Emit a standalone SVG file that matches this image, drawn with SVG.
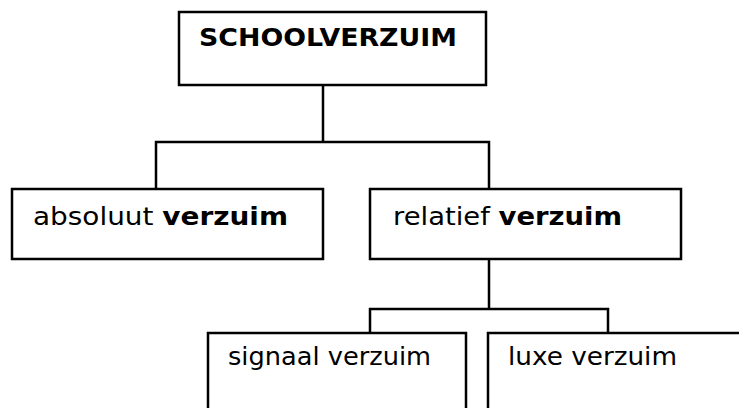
<svg xmlns="http://www.w3.org/2000/svg" width="739" height="408" viewBox="0 0 739 408">
<style>
.box{fill:#ffffff;stroke:#000000;stroke-width:2.5}
.lbl{font-family:"DejaVu Sans","Verdana",sans-serif;font-size:25px;fill:#000000}
.b{font-weight:bold}
.conn{fill:none;stroke:#000000;stroke-width:2.5;stroke-linecap:square}
</style>
<rect x="0" y="0" width="739" height="408" fill="#ffffff"/>
<g id="connectors">
<path class="conn" d="M323 85 V142 M156 142 H489 M156 142 V189 M489 142 V189"/>
<path class="conn" d="M489 259 V309 M370 309 H608 M370 309 V333 M608 309 V333"/>
</g>
<g id="schoolverzuim">
<rect class="box" x="179" y="12" width="307" height="73"/>
<text class="lbl b" x="199" y="46" font-size="22" textLength="258" lengthAdjust="spacingAndGlyphs">SCHOOLVERZUIM</text>
</g>
<g id="absoluut">
<rect class="box" x="12" y="189" width="311" height="70"/>
<text class="lbl" x="33" y="225" textLength="255" lengthAdjust="spacingAndGlyphs">absoluut <tspan class="b">verzuim</tspan></text>
</g>
<g id="relatief">
<rect class="box" x="370" y="189" width="311" height="70"/>
<text class="lbl" x="393" y="225" textLength="229" lengthAdjust="spacingAndGlyphs">relatief <tspan class="b">verzuim</tspan></text>
</g>
<g id="signaal">
<rect class="box" x="208" y="333" width="258" height="90"/>
<text class="lbl" x="228" y="365" font-size="24" textLength="203" lengthAdjust="spacingAndGlyphs">signaal verzuim</text>
</g>
<g id="luxe">
<rect class="box" x="488" y="333" width="270" height="90"/>
<text class="lbl" x="508" y="365" font-size="24" textLength="169" lengthAdjust="spacingAndGlyphs">luxe verzuim</text>
</g>
</svg>
